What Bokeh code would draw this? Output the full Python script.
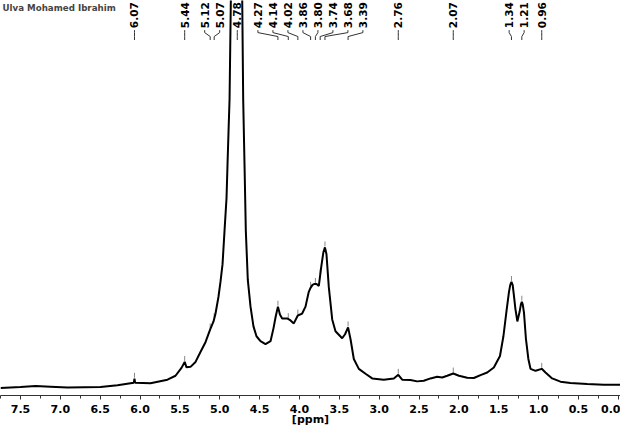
import numpy as np
from bokeh.plotting import figure
from bokeh.models import Range1d, SingleIntervalTicker, PrintfTickFormatter, Label, ColumnDataSource
from bokeh.core.properties import value
from bokeh.embed import file_html
from bokeh.resources import INLINE

title_text = "Ulva Mohamed Ibrahim"
axis_title = "[ppm]"

# traced spectrum (chemical shift in ppm, relative intensity)
ppm = [7.751, 7.50, 7.312, 7.124, 6.910, 6.496, 6.283, 6.120, 6.078, 6.070, 6.062,
       5.869, 5.656, 5.555, 5.480, 5.440, 5.417, 5.367, 5.304, 5.242, 5.179, 5.120,
       5.078, 5.053, 5.016, 4.991, 4.965, 4.940, 4.915, 4.903, 4.890, 4.877, 4.861,
       4.840, 4.784, 4.727, 4.718, 4.706, 4.689, 4.673, 4.648, 4.614, 4.577, 4.539,
       4.489, 4.426, 4.363, 4.326, 4.298, 4.270, 4.245, 4.217, 4.154, 4.112, 4.071,
       4.021, 3.966, 3.924, 3.883, 3.861, 3.836, 3.811, 3.786, 3.757, 3.727, 3.700,
       3.680, 3.661, 3.632, 3.589, 3.548, 3.464, 3.428, 3.390, 3.359, 3.318, 3.255,
       3.171, 3.087, 2.942, 2.816, 2.760, 2.711, 2.607, 2.523, 2.440, 2.356, 2.272,
       2.209, 2.146, 2.070, 1.999, 1.895, 1.812, 1.728, 1.644, 1.561, 1.484, 1.441,
       1.400, 1.371, 1.355, 1.340, 1.325, 1.310, 1.291, 1.266, 1.237, 1.222, 1.210,
       1.198, 1.183, 1.158, 1.128, 1.101, 1.038, 0.960, 0.913, 0.829, 0.725, 0.600,
       0.390, 0.181, -0.125]
intensity = [7.7, 8.5, 9.5, 8.8, 8.0, 8.5, 10.3, 12.5, 13, 17, 13,
             12.5, 16, 20, 28, 34, 28.5, 29, 34, 44, 54, 67,
             75, 83, 100, 115, 133, 167, 200, 233, 267, 300, 400,
             550, 1900, 550, 400, 300, 233, 167, 117, 90, 70, 60,
             55, 52, 55, 68, 80, 90, 82, 78, 78, 76, 73,
             81, 83, 90, 105, 109, 112, 113, 113, 111, 130, 145,
             150, 143, 110, 77, 65, 58, 62, 69, 57, 37, 27,
             22, 17.3, 16, 17.3, 21, 16, 15.7, 14.3, 15, 17.3, 19,
             18.3, 20, 22.3, 20, 18, 17.7, 20.7, 23.3, 28.3, 40, 60,
             87, 105, 112, 115, 112, 102, 88, 75, 85, 92, 95,
             92, 84, 57, 37, 27, 25, 27, 23.3, 17.3, 14, 12.7,
             11.7, 11, 10.7]

peak_ppm = [6.07, 5.44, 5.12, 5.07, 4.78, 4.27, 4.14, 4.02, 3.86, 3.80, 3.74,
            3.68, 3.39, 2.76, 2.07, 1.34, 1.21, 0.96]

W, H = 620, 428
PX_PER_PPM = 79.7
X_LEFT = 7.751
X_RIGHT = X_LEFT - W / PX_PER_PPM
Y_TOP = 400

# spread labels so they do not overlap (min gap in ppm)
gap = 15.0 / PX_PER_PPM
order = sorted(range(len(peak_ppm)), key=lambda i: -peak_ppm[i])
clusters = [[i] for i in order]
def place(cl):
    m = np.mean([-peak_ppm[i] for i in cl])
    n = len(cl)
    return [m + (k - (n - 1) / 2) * gap for k in range(n)]
changed = True
while changed:
    changed = False
    for c in range(len(clusters) - 1):
        a, b = place(clusters[c]), place(clusters[c + 1])
        if b[0] - a[-1] < gap - 1e-9:
            clusters[c] = clusters[c] + clusters[c + 1]
            del clusters[c + 1]
            changed = True
            break
label_pos = {}
for cl in clusters:
    for i, u in zip(cl, place(cl)):
        label_pos[i] = -u
lab_x = [label_pos[i] for i in range(len(peak_ppm))]

p = figure(width=W, height=H, output_backend="svg", toolbar_location=None,
           x_range=Range1d(X_LEFT, X_RIGHT), y_range=Range1d(0, Y_TOP),
           y_axis_location=None, min_border_left=0, min_border_right=0,
           min_border_top=0, min_border_bottom=H - Y_TOP)
p.grid.visible = False
p.outline_line_color = None
p.background_fill_color = "white"

# peak labels
src = ColumnDataSource(dict(x=lab_x, y=[372] * len(peak_ppm),
                            t=["%.2f" % v for v in peak_ppm]))
p.text(x="x", y="y", text="t", source=src, angle=np.pi / 2,
       text_align="left", text_baseline="middle",
       text_font=value("DejaVu Sans"), text_font_style="bold",
       text_font_size="10.5px", text_color="black")
p.multi_line(xs=[[lx, lx, pk, pk] for lx, pk in zip(lab_x, peak_ppm)],
             ys=[[370, 367.5, 363.5, 360]] * len(peak_ppm),
             line_color="#333333", line_width=1)

# peak pick markers
xi = np.array(ppm[::-1]); yi = np.array(intensity[::-1])
mk_x, mk_y = [], []
for pk in peak_ppm:
    h = float(np.interp(pk, xi, yi))
    if h < 340:
        mk_x.append([pk, pk]); mk_y.append([h + 1, h + 6])
p.multi_line(xs=mk_x, ys=mk_y, line_color="#888888", line_width=1)

p.line(ppm, intensity, line_color="black", line_width=2)

p.add_layout(Label(x=7.726, y=397, text=title_text, text_align="left",
                   text_baseline="top", text_font="DejaVu Sans",
                   text_font_style="bold", text_font_size="8.7px"))

ax = p.xaxis[0]
ax.ticker = SingleIntervalTicker(interval=0.5, num_minor_ticks=2)
ax.formatter = PrintfTickFormatter(format="%.1f")
ax.major_label_text_font = "DejaVu Sans"
ax.major_label_text_font_style = "bold"
ax.major_label_text_font_size = "11px"
ax.major_label_text_line_height = 1.0
ax.major_label_standoff = 5
ax.major_label_text_color = "black"
ax.axis_label = axis_title
ax.axis_label_text_font = "DejaVu Sans"
ax.axis_label_text_font_style = "bold"
ax.axis_label_text_font_size = "11px"
ax.axis_label_text_line_height = 1.0
ax.axis_label_standoff = -3
ax.axis_label_text_color = "black"
ax.axis_line_color = "#333333"
ax.major_tick_line_color = "#333333"
ax.minor_tick_line_color = "#333333"
ax.major_tick_out = 4
ax.major_tick_in = 0
ax.minor_tick_out = 3
ax.minor_tick_in = 0

open("out.html", "w").write(file_html(p, INLINE))
